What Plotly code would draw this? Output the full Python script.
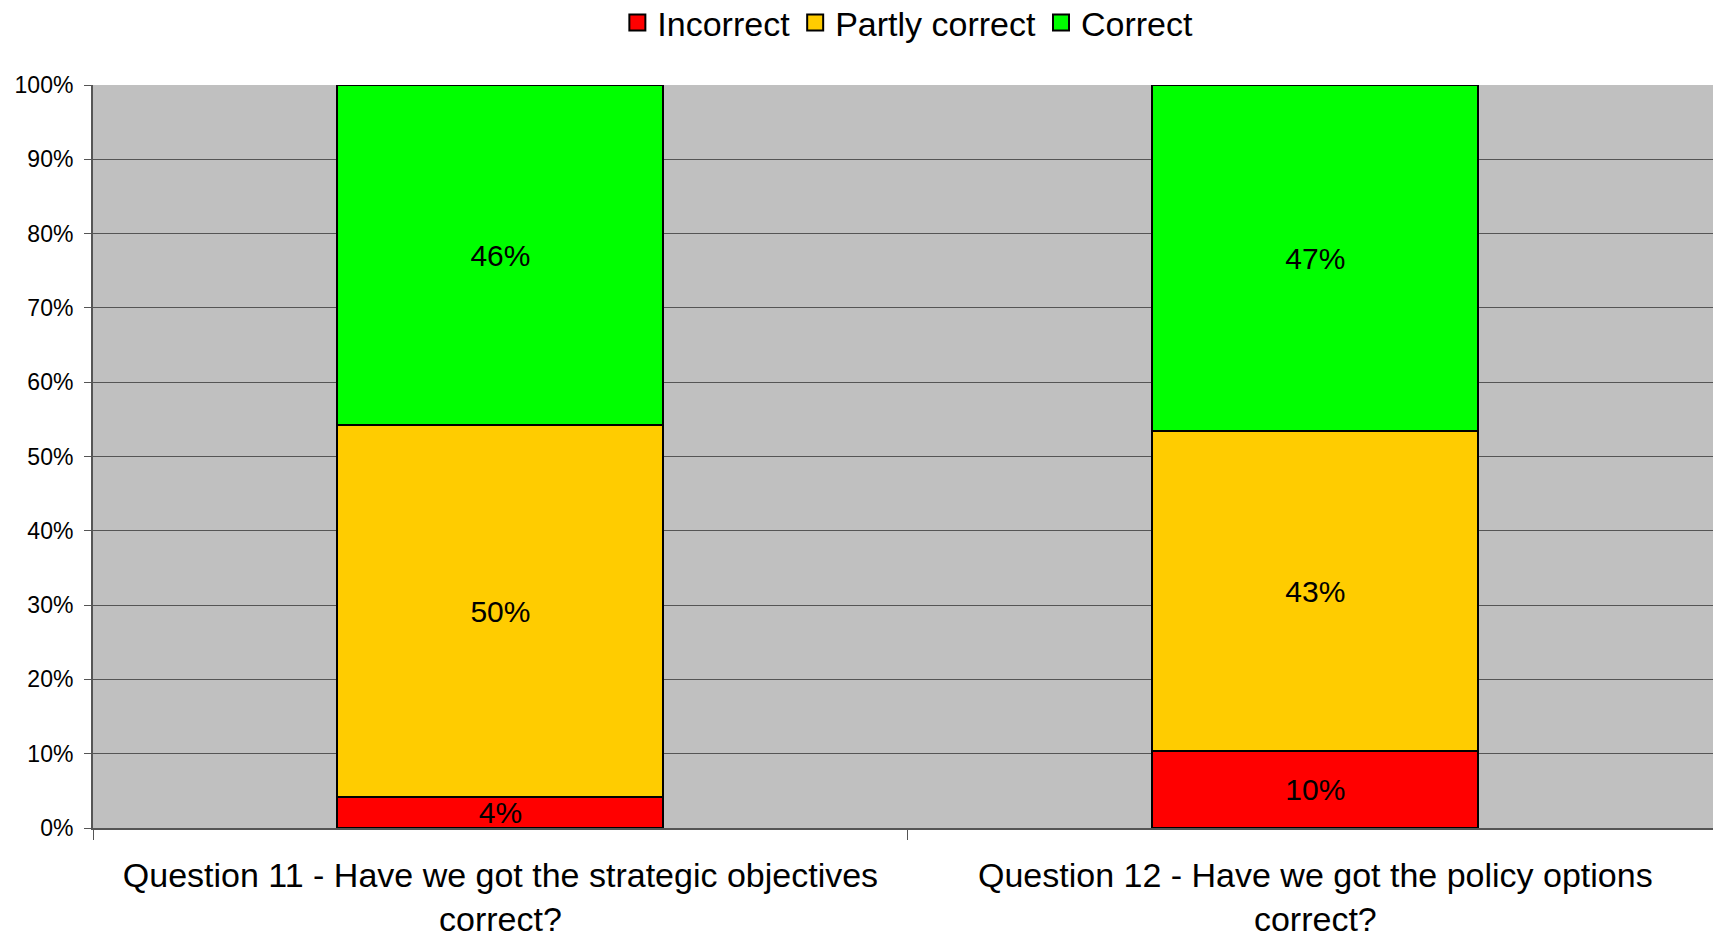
import plotly.graph_objects as go

categories = [
    "Question 11 - Have we got the strategic objectives<br>correct?",
    "Question 12 - Have we got the policy options<br>correct?",
]
series_names = ["Incorrect", "Partly correct", "Correct"]
incorrect = [4.2, 10.3]
partly_correct = [50.0, 43.1]
correct = [45.8, 46.6]
colors = ["#FF0000", "#FFCC00", "#00FF00"]
y_ticks = [0, 10, 20, 30, 40, 50, 60, 70, 80, 90, 100]
y_tick_text = [f"{v}%" for v in y_ticks]

FONT = "Liberation Sans, Arial, sans-serif"

W, H = 1713, 936
L, T, B = 93, 85, 108
PLOT_H = H - T - B

fig = go.Figure()
for name, vals, col in zip(series_names, [incorrect, partly_correct, correct], colors):
    fig.add_trace(go.Bar(
        name=name,
        x=categories,
        y=vals,
        marker=dict(color=col, line=dict(color="#000000", width=2)),
        texttemplate="%{y:.0f}%",
        textposition="inside",
        insidetextanchor="middle",
        constraintext="none",
        textangle=0,
        textfont=dict(family=FONT, size=30, color="#000000"),
        hoverinfo="skip",
        showlegend=False,
    ))

# legend entries with larger square swatches
for name, col in zip(series_names, colors):
    fig.add_trace(go.Scatter(
        name=name,
        x=[None],
        y=[None],
        mode="markers",
        marker=dict(symbol="square", size=20, color=col, line=dict(color="#000000", width=2)),
        showlegend=True,
        hoverinfo="skip",
    ))

fig.update_layout(
    width=W,
    height=H,
    barmode="stack",
    bargap=0.6,
    paper_bgcolor="#FFFFFF",
    plot_bgcolor="#C0C0C0",
    margin=dict(l=L, r=0, t=T, b=B, autoexpand=False),
    font=dict(family=FONT, color="#000000"),
    legend=dict(
        orientation="h",
        x=0.503,
        xanchor="center",
        y=1.0 + (T - 23) / PLOT_H,
        yanchor="middle",
        traceorder="normal",
        font=dict(family=FONT, size=34, color="#000000"),
        itemwidth=30,
        bgcolor="rgba(0,0,0,0)",
    ),
    xaxis=dict(
        type="category",
        range=[-0.5, 1.488],
        showline=True,
        linecolor="#555555",
        linewidth=2,
        ticks="outside",
        tickson="boundaries",
        ticklen=10,
        tickcolor="#555555",
        tickfont=dict(family=FONT, size=34, color="#000000"),
        ticklabelstandoff=16,
        showgrid=False,
        automargin=False,
    ),
    yaxis=dict(
        range=[0, 100],
        tickmode="array",
        tickvals=y_ticks,
        ticktext=y_tick_text,
        ticks="outside",
        ticklen=7,
        tickcolor="#555555",
        showline=True,
        linecolor="#555555",
        linewidth=2,
        showgrid=True,
        gridcolor="#555555",
        gridwidth=1,
        tickfont=dict(family=FONT, size=23, color="#000000"),
        ticklabelstandoff=6,
        zeroline=False,
        automargin=False,
    ),
)

fig.write_html(
    "out.html",
    config={"displayModeBar": False},
    post_script="document.body.style.margin='0px';document.documentElement.style.overflow='hidden';",
)
